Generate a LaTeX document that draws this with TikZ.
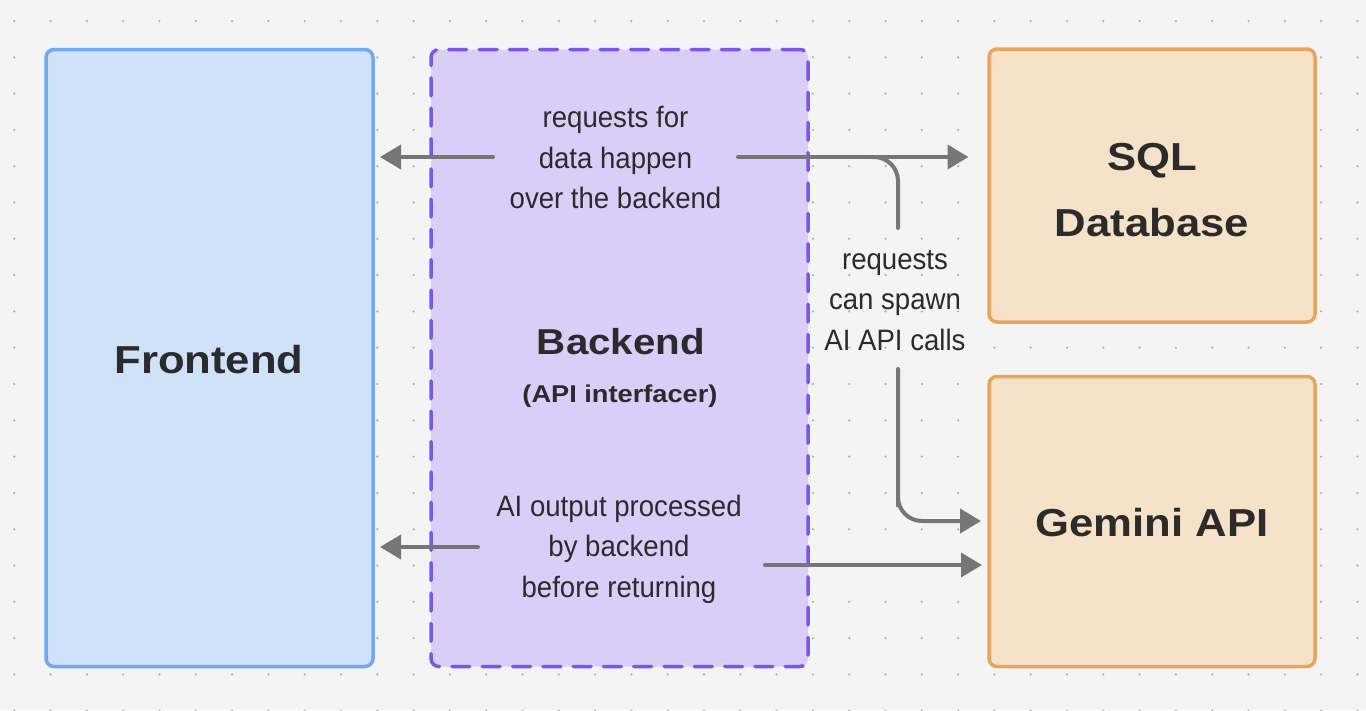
\documentclass[tikz,border=0pt]{standalone}
\usepackage{fontspec}
\setmainfont[FakeStretch=0.935]{Liberation Sans}
\newfontfamily\boldfam[FakeStretch=1.12]{Liberation Sans}
\usetikzlibrary{arrows.meta}
\definecolor{bgc}{HTML}{F4F4F4}
\definecolor{dotc}{HTML}{ADADAD}
\definecolor{feFill}{HTML}{CFE2F9}
\definecolor{feLine}{HTML}{70A9F2}
\definecolor{beFill}{HTML}{D9CEF7}
\definecolor{beLine}{HTML}{7A56EE}
\definecolor{orFill}{HTML}{F6E2C9}
\definecolor{orLine}{HTML}{E8A55D}
\definecolor{arrc}{HTML}{767676}
\definecolor{txtc}{HTML}{2B2B2B}
\tikzset{
  box/.style={rectangle, rounded corners=8pt, line width=3.5pt, outer sep=0pt, inner sep=0pt},
  febox/.style={box, draw=feLine, fill=feFill},
  bebox/.style={box, draw=beLine, fill=beFill, line cap=round, dash pattern=on 18pt off 12.3pt},
  orbox/.style={box, draw=orLine, fill=orFill},
  conn/.style={draw=arrc, line width=4pt, line cap=round},
  arr/.style={conn, -{Triangle[length=21pt,width=24pt]}},
  title/.style={text=txtc, font=\boldfam\bfseries\fontsize{39}{66.7}\selectfont, align=center, anchor=base},
  label/.style={text=txtc, font=\fontsize{29.5}{40.5}\selectfont, align=center, anchor=base},
}
\begin{document}
\begin{tikzpicture}[x=1pt,y=-1pt]
\useasboundingbox (0,0) rectangle (1366,710);
\fill[bgc] (0,0) rectangle (1366,710);
\foreach \i in {0,...,37} {
  \foreach \j in {0,...,19} {
    \fill[dotc] ({14.3+36.3*\i},{21+36.3*\j}) circle (1.2);
  }
}
% boxes
\node[febox, minimum width=327pt, minimum height=617pt] (fe) at (209.5,358) {};
\node[bebox, minimum width=377pt, minimum height=617pt] (be) at (619.5,358) {};
\node[orbox, minimum width=326pt, minimum height=273pt] (sql) at (1152,185.5) {};
\node[orbox, minimum width=326pt, minimum height=290pt] (gem) at (1152,521.5) {};
% titles (base anchor = baseline of the last line)
\node[title] (feT) at (209,373) {Frontend};
\node[title, font=\boldfam\bfseries\fontsize{36}{40}\selectfont] (beT) at (621,354.3) {Backend};
\node[title, font=\boldfam\bfseries\fontsize{24.3}{28}\selectfont] (beS) at (620,402) {(API interfacer)};
\node[title] (sqlT) at (1152,236.7) {SQL\\Database};
\node[title] (gemT) at (1152,536) {Gemini API};
% labels
\node[label] (l1) at (615.5,208.5) {requests for\\data happen\\over the backend};
\node[label] (l2) at (895,350) {requests\\can spawn\\AI API calls};
\node[label] (l3) at (619,597) {AI output processed\\by backend\\before returning};
% connectors
\coordinate (s1) at (493,157);
\coordinate (s2) at (738,157);
\coordinate (s3a) at (872,157);
\coordinate (s3b) at (898,228);
\coordinate (s4) at (898,369);
\coordinate (s5) at (478,547);
\coordinate (s6) at (765,565);
\draw[arr, shorten >=7pt] (s1) -- (s1 -| fe.east);
\draw[arr, shorten >=20.5pt] (s2) -- (s2 -| sql.west);
\draw[conn, rounded corners=24pt] (s3a) -| (s3b);
\draw[arr, rounded corners=24pt, shorten >=8pt] (s4) |- (s4 |- 0,521) -- (gem.west |- 0,521);
\draw[arr, shorten >=7pt] (s5) -- (s5 -| fe.east);
\draw[arr, shorten >=7pt] (s6) -- (s6 -| gem.west);
\end{tikzpicture}
\end{document}
